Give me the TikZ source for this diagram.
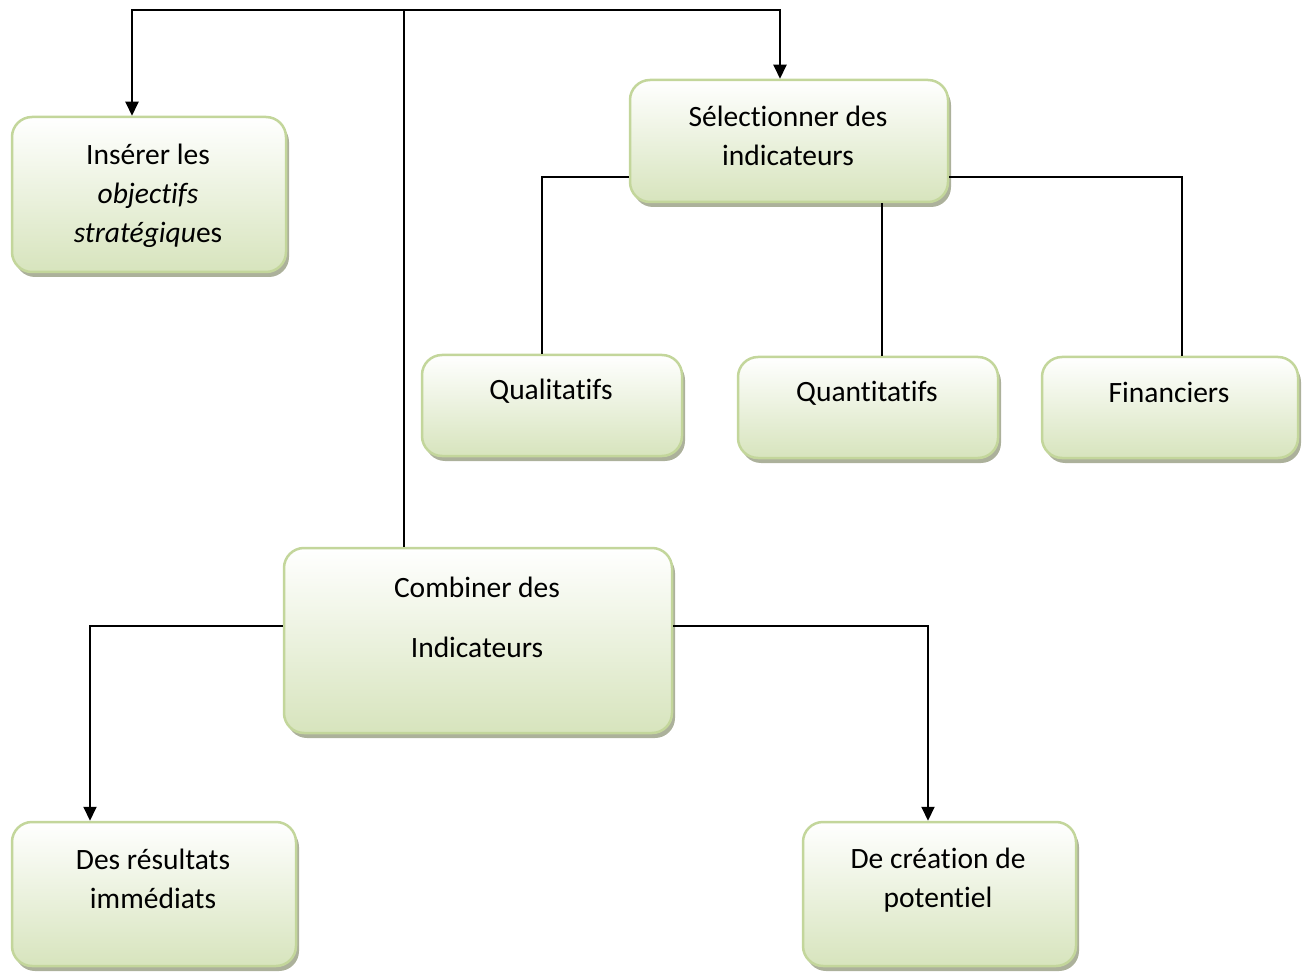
\documentclass[tikz,border=0pt]{standalone}
\usepackage{fontspec}
\setmainfont{Carlito}[Renderer=OpenType, RawFeature={-liga;-clig;-dlig;-calt;-hlig}]
\usetikzlibrary{arrows.meta,shadows}
\definecolor{boxline}{HTML}{C3D69B}
\definecolor{boxfill}{HTML}{D7E4BD}
\definecolor{shadowc}{HTML}{9EA389}
\tikzset{
  box/.style={draw=boxline, line width=2.5pt, rounded corners=20pt,
    top color=white, bottom color=boxfill, inner sep=0pt,
    drop shadow={shadow xshift=3pt, shadow yshift=-5pt, fill=shadowc, opacity=0.85}},
  lbl/.style={align=center, font=\fontsize{29.5}{39}\selectfont, inner sep=0pt},
  link/.style={line width=2pt, black},
  arr/.style={link, -{Triangle[width=13pt,length=14pt]}}
}
\begin{document}
\begin{tikzpicture}[x=1pt,y=-1pt]
\useasboundingbox (0,0) rectangle (1307,976);

% boxes
\node[box, minimum width=274pt, minimum height=155pt] (A) at (149,194.5) {};
\node[box, minimum width=318pt, minimum height=122pt] (S) at (789,141) {};
\node[box, minimum width=260pt, minimum height=101pt] (Q1) at (552,405.5) {};
\node[box, minimum width=260pt, minimum height=101pt] (Q2) at (868,407.5) {};
\node[box, minimum width=256pt, minimum height=101pt] (F) at (1170,407.5) {};
\node[box, minimum width=388pt, minimum height=185pt] (C) at (478,640.5) {};
\node[box, minimum width=284pt, minimum height=144pt] (R) at (154,894) {};
\node[box, minimum width=273pt, minimum height=144pt] (D) at (939.5,894) {};

% labels
\node[lbl] (tA) at (148,195.5) {Insérer les\\\textit{objectifs}\\\textit{stratégiqu}es};
\node[lbl] (tS) at (788,135.5) {Sélectionner des\\indicateurs};
\node[lbl] (tQ1) at (551,391.5) {Qualitatifs};
\node[lbl] (tQ2) at (867,393.5) {Quantitatifs};
\node[lbl] (tF) at (1169,392.5) {Financiers};
\node[lbl, font=\fontsize{29.5}{60}\selectfont] (tC) at (477,617) {Combiner des\\Indicateurs};
\node[lbl] (tR) at (153,879) {Des résultats\\immédiats};
\node[lbl] (tD) at (938,880.5) {De création de\\potentiel};

% top bus
\coordinate (busL) at (132,10);
\coordinate (busC) at (404,10);
\coordinate (busR) at (780,10);
\draw[arr] (busC) -- (busL) -- (A.north -| busL);
\draw[arr] (busC) -- (busR) -- (S.north -| busR);
\draw[link] (busC) -- (C.north -| busC);

% indicator branches
\coordinate (sL) at (542,177);
\coordinate (sR) at (1182,177);
\coordinate (sM) at (882,200);
\draw[link] (S.west |- sL) -- (sL) -- (Q1.north -| sL);
\draw[link] (S.east |- sR) -- (sR) -- (F.north -| sR);
\draw[link] (S.south -| sM) -- (Q2.north -| sM);

% combination branches
\coordinate (cL) at (90,626);
\coordinate (cR) at (928,626);
\draw[arr] (C.west |- cL) -- (cL) -- (R.north -| cL);
\draw[arr] (C.east |- cR) -- (cR) -- (D.north -| cR);
\end{tikzpicture}
\end{document}
